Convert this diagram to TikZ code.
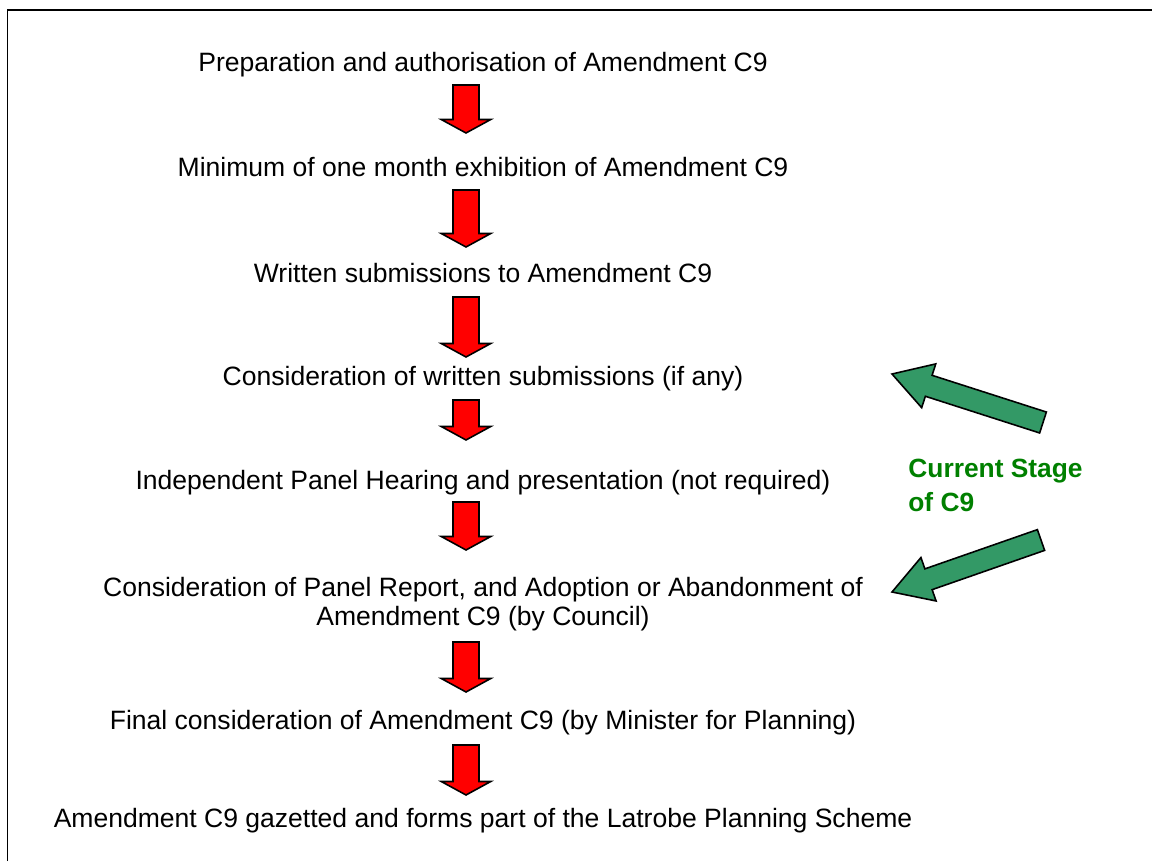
\documentclass[tikz,border=0pt]{standalone}
\usepackage{fontspec}
\setmainfont{Liberation Sans}
\usepackage{tikz}
\usepackage{xcolor}
\usetikzlibrary{calc, positioning}
\definecolor{StageRed}{HTML}{FF0000}
\definecolor{StageGreen}{HTML}{339966}
\definecolor{StageGreenText}{HTML}{008000}
\definecolor{StageBlack}{HTML}{000000}
\tikzset{
    % Block arrow drawn as a polygon between two points
    % #1 half shaft width, #2 half head width, #3 head length
    fatarrow/.style n args={3}{
        to path={
            let \p1=(\tikztostart), \p2=(\tikztotarget),
                \n1={atan2(\y2-\y1,\x2-\x1)},
                \n2={veclen(\x2-\x1,\y2-\y1)-#3} in
            ($(\p1)+(\n1+90:#1)$)
            -- ($(\p1)+(\n1:\n2)+(\n1+90:#1)$)
            -- ($(\p1)+(\n1:\n2)+(\n1+90:#2)$)
            -- (\p2)
            -- ($(\p1)+(\n1:\n2)+(\n1-90:#2)$)
            -- ($(\p1)+(\n1:\n2)+(\n1-90:#1)$)
            -- ($(\p1)+(\n1-90:#1)$)
            -- cycle
        }
    },
    % Node styles
    stagetext/.style={
        anchor=base,
        inner sep=0pt,
        align=center,
        font=\fontsize{15.1}{16}\selectfont
    },
    currenttext/.style={
        anchor=base west,
        inner sep=0pt,
        align=left,
        text=StageGreenText,
        font=\fontsize{15}{19}\selectfont\bfseries
    },
    % Arrow styles
    redarrow/.style={
        draw=StageBlack,
        fill=StageRed,
        line width=0.9pt,
        line join=miter,
        fatarrow={0.26cm}{0.495cm}{0.27cm}
    },
    greenarrow/.style={
        draw=StageBlack,
        fill=StageGreen,
        line width=0.9pt,
        line join=miter,
        fatarrow={0.22cm}{0.46cm}{0.77cm}
    }
}
\begin{document}
\begin{tikzpicture}
    \useasboundingbox (0,0) rectangle (23.04,17.22);
    % frame
    \draw[line width=1.1pt] (0.15,0) |- (23.04,17.02);

    \node[stagetext] (s1) at (9.66,15.78) {Preparation and authorisation of Amendment C9};
    \node[stagetext] (s2) at (9.66,13.68) {Minimum of one month exhibition of Amendment C9};
    \node[stagetext] (s3) at (9.66,11.58) {Written submissions to Amendment C9};
    \node[stagetext] (s4) at (9.66,9.52) {Consideration of written submissions (if any)};
    \node[stagetext] (s5) at (9.66,7.44) {Independent Panel Hearing and presentation (not required)};
    % base of a two-line node is its last line
    \node[stagetext] (s6) at (9.66,4.72) {Consideration of Panel Report, and Adoption or Abandonment of\\Amendment C9 (by Council)};
    \node[stagetext] (s7) at (9.66,2.64) {Final consideration of Amendment C9 (by Minister for Planning)};
    \node[stagetext] (s8) at (9.66,0.68) {Amendment C9 gazetted and forms part of the Latrobe Planning Scheme};

    \node[currenttext] (cur) at (18.16,7.0) {Current Stage\\of C9};

    % red arrows between the stages
    \coordinate (t1) at (9.32,15.52); \coordinate (h1) at (9.32,14.56);
    \coordinate (t2) at (9.32,13.42); \coordinate (h2) at (9.32,12.28);
    \coordinate (t3) at (9.32,11.28); \coordinate (h3) at (9.32,10.08);
    \coordinate (t4) at (9.32,9.22);  \coordinate (h4) at (9.32,8.42);
    \coordinate (t5) at (9.32,7.18);  \coordinate (h5) at (9.32,6.22);
    \coordinate (t6) at (9.32,4.38);  \coordinate (h6) at (9.32,3.38);
    \coordinate (t7) at (9.32,2.32);  \coordinate (h7) at (9.32,1.32);
    \foreach \i in {1,...,7}
        \draw[redarrow] (t\i) to (h\i);

    % green arrows from the label
    \coordinate (g1) at (20.86,8.77); \coordinate (gh1) at (17.84,9.74);
    \coordinate (g2) at (20.82,6.42); \coordinate (gh2) at (17.84,5.38);
    \draw[greenarrow] (g1) to (gh1);
    \draw[greenarrow] (g2) to (gh2);
\end{tikzpicture}
\end{document}
